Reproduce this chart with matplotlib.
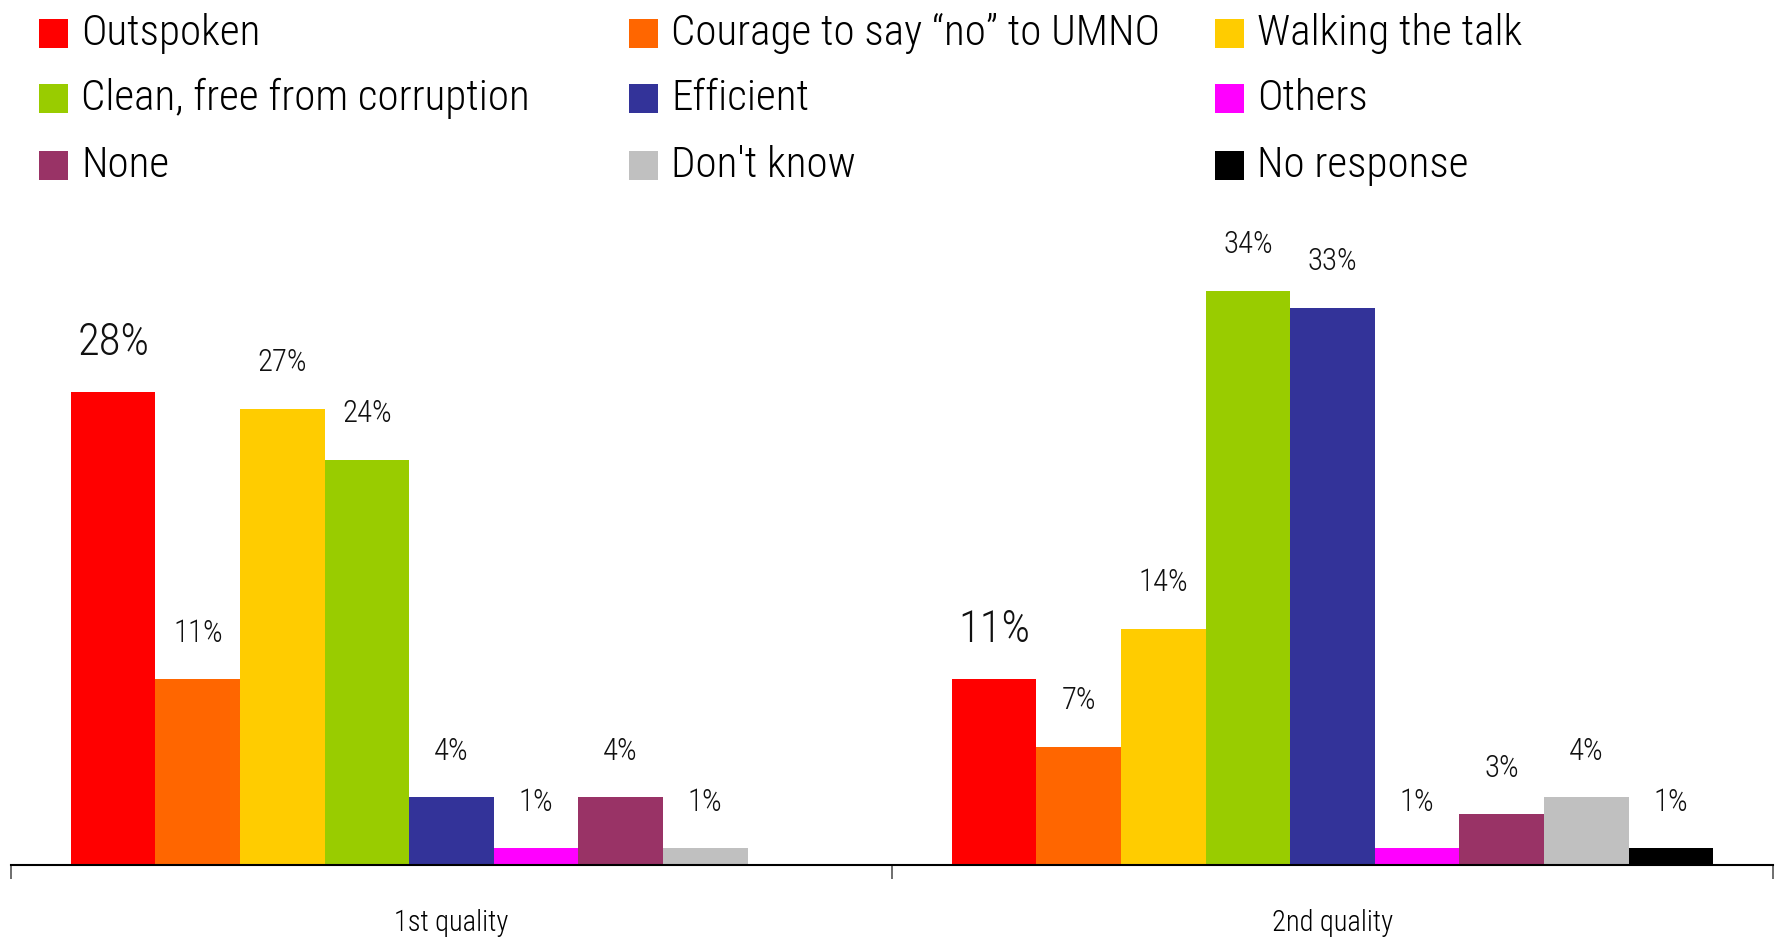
import numpy as np
import matplotlib
matplotlib.use("Agg")
import matplotlib.pyplot as plt
from matplotlib import font_manager
from matplotlib.patches import Rectangle

# survey data
groups = ["1st quality", "2nd quality"]
qualities = ["Outspoken", "Courage to say \u201cno\u201d to UMNO", "Walking the talk",
             "Clean, free from corruption", "Efficient", "Others",
             "None", "Don't know", "No response"]
first_quality = [28, 11, 27, 24, 4, 1, 4, 1, 0]
second_quality = [11, 7, 14, 34, 33, 1, 3, 4, 1]
colors = ["#FF0000", "#FF6600", "#FFCC00", "#99CC00", "#333399",
          "#FF00FF", "#993366", "#C0C0C0", "#000000"]

values = np.array([first_quality, second_quality])

# pick a narrow sans if one is installed, otherwise plain Liberation Sans
narrow = ("condensed", "semi-condensed", "extra-condensed", "ultra-condensed")
family, stretch = "Liberation Sans", "normal"
fonts = font_manager.fontManager.ttflist
names = {f.name for f in fonts}
for cand in ["Liberation Sans Narrow", "Arial Narrow", "Roboto Condensed",
             "Open Sans Condensed", "Noto Sans Condensed"]:
    if cand in names:
        family = cand
        break
else:
    for pref in ["Liberation Sans", "Roboto", "Open Sans", "Noto Sans", "DejaVu Sans"]:
        hit = [f for f in fonts if f.name == pref and f.stretch in narrow and f.weight in (400, "normal", "regular")]
        if hit:
            family, stretch = pref, hit[0].stretch
            break
plt.rcParams["font.family"] = [family, "DejaVu Sans"]
plt.rcParams["font.stretch"] = stretch
plt.rcParams["font.weight"] = "light"

fig = plt.figure(figsize=(17.75, 9.4), dpi=100)
renderer = fig.canvas.get_renderer()


def fit_size(text, size, target_px):
    t = fig.text(0, 0, text, fontsize=size)
    w = t.get_window_extent(renderer).width
    t.remove()
    return size * min(1.0, target_px / w)


leg_size = fit_size("Clean, free from corruption", 33, 450)
big_size = fit_size("28%", 34, 72)
small_size = fit_size("34%", 23, 50)
grp_size = fit_size("1st quality", 23, 115)

ax = fig.add_axes([11 / 1775, 0.0798, 1762 / 1775, 0.6468])

x = np.arange(len(groups))
width = 0.096
n = len(qualities)
for i, (name, col) in enumerate(zip(qualities, colors)):
    pos = x - (n / 2) * width + (i + 0.5) * width
    vals = values[:, i]
    ax.bar(pos, vals, width, color=col, linewidth=0)
    size = big_size if i == 0 else small_size
    for xp, v in zip(pos, vals):
        if v > 0:
            ax.annotate(f"{v}%", (xp, v), xytext=(0, 27), textcoords="offset points",
                        ha="center", va="baseline", fontsize=size, color="#111111")

ax.set_xlim(-0.5, 1.5)
ax.set_ylim(0, 36)
for s in ["left", "top", "right"]:
    ax.spines[s].set_visible(False)
ax.spines["bottom"].set_linewidth(1.5)
ax.set_yticks([])

# boundary ticks, labels centred under each group
ax.set_xticks([-0.5, 0.5, 1.5])
ax.set_xticklabels([])
ax.tick_params(axis="x", which="major", length=10, width=1.2, color="#555555")
ax.set_xticks(x, minor=True)
ax.set_xticklabels(groups, minor=True, fontsize=grp_size)
ax.tick_params(axis="x", which="minor", length=0, pad=32)

# legend laid out in a 3x3 grid
col_x = [39, 629, 1215]
row_y = [33, 98, 165]
sw = 29
for i, (name, col) in enumerate(zip(qualities, colors)):
    cx = col_x[i % 3]
    cy = row_y[i // 3]
    fig.patches.append(Rectangle((cx / 1775, 1 - (cy + sw / 2) / 940), sw / 1775, sw / 940,
                                 transform=fig.transFigure, color=col, linewidth=0))
    fig.text((cx + 42) / 1775, 1 - (cy + 12) / 940, name, fontsize=leg_size,
             va="baseline", ha="left", color="black")

fig.savefig("out.png", dpi=100)
